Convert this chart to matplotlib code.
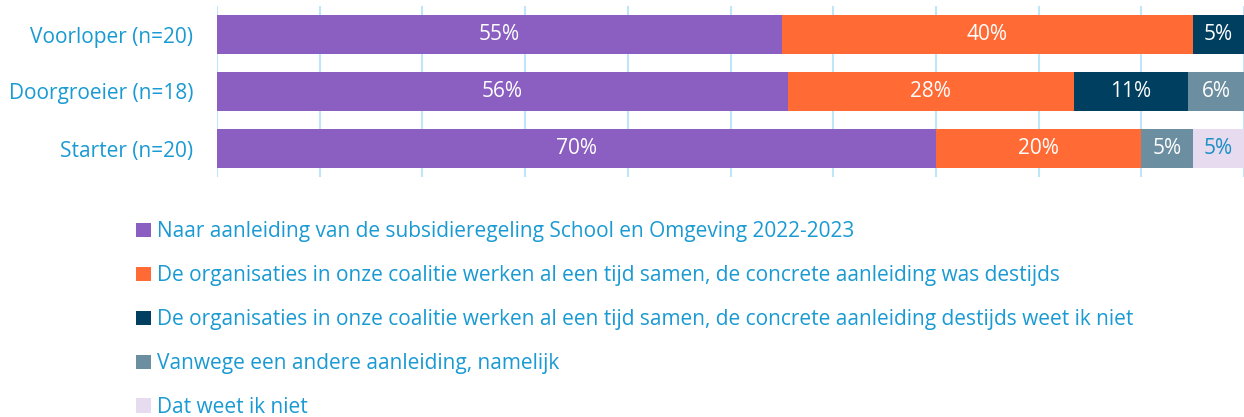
import numpy as np
import matplotlib.pyplot as plt

plt.rcParams['font.family'] = ['Open Sans', 'DejaVu Sans']

categories = ['Voorloper (n=20)', 'Doorgroeier (n=18)', 'Starter (n=20)']
series_names = [
    'Naar aanleiding van de subsidieregeling School en Omgeving 2022-2023',
    'De organisaties in onze coalitie werken al een tijd samen, de concrete aanleiding was destijds',
    'De organisaties in onze coalitie werken al een tijd samen, de concrete aanleiding destijds weet ik niet',
    'Vanwege een andere aanleiding, namelijk',
    'Dat weet ik niet',
]
# percentages per category, per series
subsidie = [55.0, 55.6, 70.0]
concreet = [40.0, 27.8, 20.0]
weet_niet_aanleiding = [5.0, 11.1, 0.0]
andere = [0.0, 5.6, 5.0]
weet_niet = [0.0, 0.0, 5.0]
series_values = [subsidie, concreet, weet_niet_aanleiding, andere, weet_niet]

colors = ['#8a5fc1', '#ff6a35', '#003f5f', '#6b8ea1', '#e7dbf0']
label_colors = ['white', 'white', 'white', 'white', '#1a8fc4']
text_blue = '#1a9ad3'
fs = 15

fig = plt.figure(figsize=(12.44, 4.17), dpi=100)
ax = fig.add_axes([217 / 1244, 1 - 177 / 417, 1 - 217 / 1244, 171 / 417])

y = np.arange(len(categories))
left = np.zeros(len(categories))
handles = []
for vals, name, col, lcol in zip(series_values, series_names, colors, label_colors):
    vals = np.array(vals)
    bars = ax.barh(y, vals, left=left, height=0.67, color=col, label=name, zorder=2)
    handles.append(bars)
    for yi, v, l in zip(y, vals, left):
        if v > 0:
            ax.text(l + v / 2, yi, f'{v:.0f}%', ha='center', va='center',
                    color=lcol, fontsize=fs, zorder=3)
    left += vals

ax.set_xlim(0, 100)
ax.set_ylim(2.5, -0.5)
ax.set_xticks(np.arange(0, 101, 10))
ax.xaxis.grid(True, color='#bfe6f8', linewidth=1.5, zorder=0)
ax.tick_params(axis='x', length=0, labelbottom=False)
ax.tick_params(axis='y', length=0, pad=17)
ax.set_yticks(y)
ax.set_yticklabels(categories, fontsize=fs, color=text_blue)
for s in ax.spines.values():
    s.set_visible(False)

fig.legend(handles=handles, labels=series_names, loc='upper left',
           bbox_to_anchor=(128 / 1244, 1 - 213 / 417), frameon=False,
           fontsize=fs, labelcolor=text_blue, handlelength=0.7, handleheight=0.7,
           handletextpad=0.3, labelspacing=1.1, borderaxespad=0)

fig.savefig('out.png', dpi=100)
